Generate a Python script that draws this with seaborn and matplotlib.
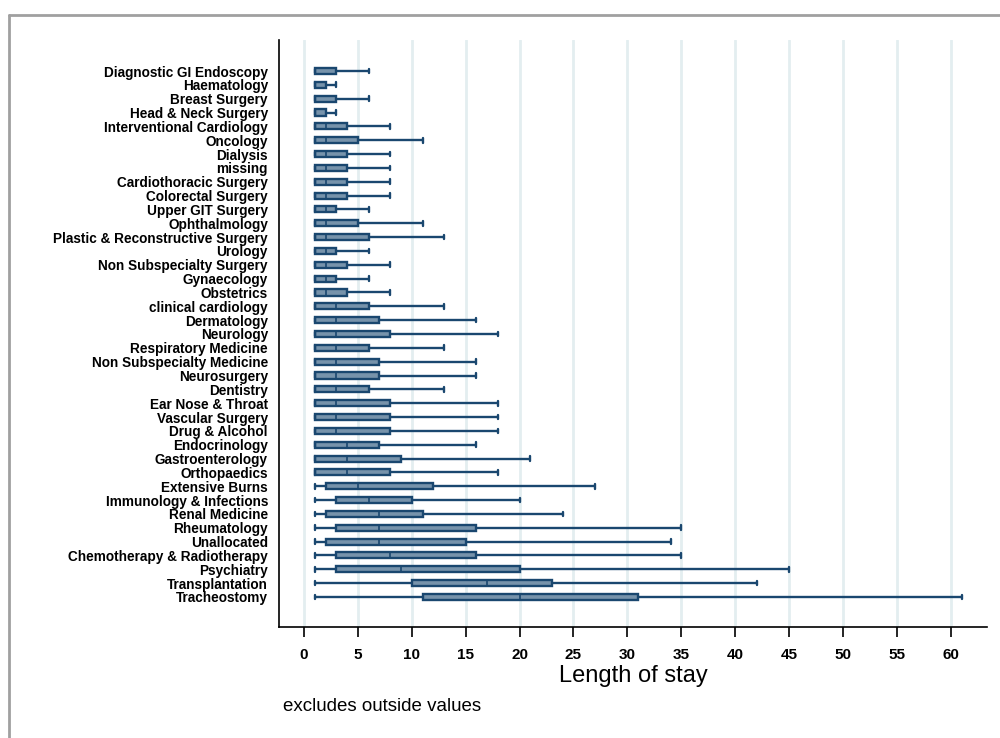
import pandas as pd
import matplotlib
matplotlib.use("Agg")
import matplotlib.pyplot as plt
import matplotlib.lines as mlines
import seaborn as sns

# Five-number summaries (min, q1, median, q3, max)
specialties = [
    "Diagnostic GI Endoscopy", "Haematology", "Breast Surgery", "Head & Neck Surgery",
    "Interventional Cardiology", "Oncology", "Dialysis", "missing",
    "Cardiothoracic Surgery", "Colorectal Surgery", "Upper GIT Surgery", "Ophthalmology",
    "Plastic & Reconstructive Surgery", "Urology", "Non Subspecialty Surgery", "Gynaecology",
    "Obstetrics", "clinical cardiology", "Dermatology", "Neurology",
    "Respiratory Medicine", "Non Subspecialty Medicine", "Neurosurgery", "Dentistry",
    "Ear Nose & Throat", "Vascular Surgery", "Drug & Alcohol", "Endocrinology",
    "Gastroenterology", "Orthopaedics", "Extensive Burns", "Immunology & Infections",
    "Renal Medicine", "Rheumatology", "Unallocated", "Chemotherapy & Radiotherapy",
    "Psychiatry", "Transplantation", "Tracheostomy",
]
los_min = [1] * 39
los_q1 = [1, 1, 1, 1, 1, 1, 1, 1, 1, 1, 1, 1, 1, 1, 1, 1, 1, 1, 1, 1,
          1, 1, 1, 1, 1, 1, 1, 1, 1, 1, 2, 3, 2, 3, 2, 3, 3, 10, 11]
los_median = [1, 1, 1, 1, 2, 2, 2, 2, 2, 2, 2, 2, 2, 2, 2, 2, 2, 3, 3, 3,
              3, 3, 3, 3, 3, 3, 3, 4, 4, 4, 5, 6, 7, 7, 7, 8, 9, 17, 20]
los_q3 = [3, 2, 3, 2, 4, 5, 4, 4, 4, 4, 3, 5, 6, 3, 4, 3, 4, 6, 7, 8,
          6, 7, 7, 6, 8, 8, 8, 7, 9, 8, 12, 10, 11, 16, 15, 16, 20, 23, 31]
los_max = [6, 3, 6, 3, 8, 11, 8, 8, 8, 8, 6, 11, 13, 6, 8, 6, 8, 13, 16, 18,
           13, 16, 16, 13, 18, 18, 18, 16, 21, 18, 27, 20, 24, 35, 34, 35, 45, 42, 61]
x_ticks = list(range(0, 61, 5))

rows = []
for i, name in enumerate(specialties):
    for v in (los_min[i], los_q1[i], los_median[i], los_q3[i], los_max[i]):
        rows.append({"specialty": name, "los": v})
df = pd.DataFrame(rows)

sns.set_theme(style="white")
plt.rcParams["font.family"] = ["Liberation Sans", "DejaVu Sans"]
plt.rcParams["text.color"] = "black"
plt.rcParams["axes.labelcolor"] = "black"
plt.rcParams["xtick.color"] = "black"
plt.rcParams["ytick.color"] = "black"

fill = "#7793ab"
edge = "#1a476f"

fig = plt.figure(figsize=(10, 7.38), dpi=100)
ax = fig.add_axes([0.279, 0.1504, 0.708, 0.7954])

for t in x_ticks:
    ax.axvline(t, color="#e3eef0", lw=2, zorder=0)

sns.boxplot(
    data=df, x="los", y="specialty", order=specialties, ax=ax,
    whis=(0, 100), showfliers=False, width=0.44, color=fill, saturation=1,
    linecolor=edge, linewidth=1.7, capwidths=0.34,
    medianprops={"color": edge, "linewidth": 1.2},
)

ax.set_xlim(-2.32, 63.36)
ax.set_ylim(40.17, -2.24)
ax.set_xticks(x_ticks)
ax.set_xticklabels([str(t) for t in x_ticks], fontsize=11, fontweight="bold")
ax.tick_params(axis="x", bottom=True, length=7, width=1.2, color="black", pad=8)
ax.tick_params(axis="y", left=False, pad=2)
for lab in ax.get_yticklabels():
    lab.set_fontsize(9.8)
    lab.set_fontweight("bold")
ax.set_ylabel("")
ax.set_xlabel("Length of stay", fontsize=17, labelpad=2)
ax.grid(False)

for s in ["top", "right"]:
    ax.spines[s].set_visible(False)
for s in ["left", "bottom"]:
    ax.spines[s].set_color("black")
    ax.spines[s].set_linewidth(1.2)

fig.text(0.283, 0.036, "excludes outside values", fontsize=13.5)

# outer frame of the graph window
fig.add_artist(mlines.Line2D([0.009, 1.0], [0.98, 0.98], transform=fig.transFigure,
                             color="#a0a0a0", lw=2))
fig.add_artist(mlines.Line2D([0.009, 0.009], [0.0, 0.98], transform=fig.transFigure,
                             color="#a0a0a0", lw=2))

fig.savefig("out.png", dpi=100)
